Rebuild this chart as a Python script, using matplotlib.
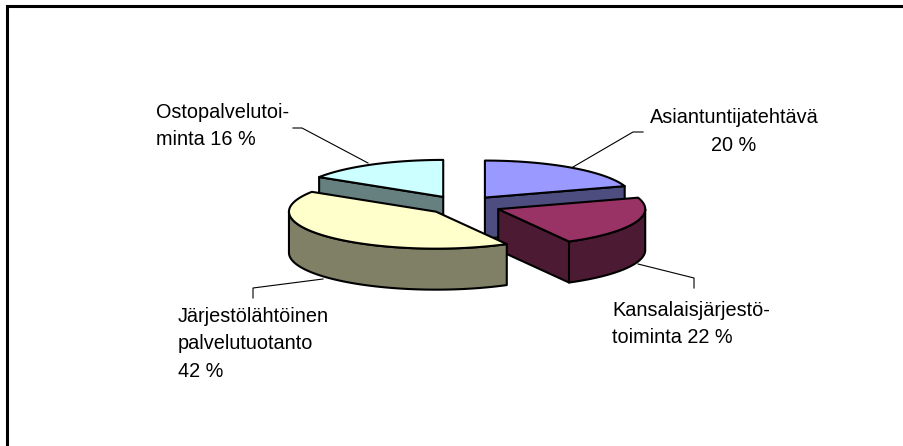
import numpy as np
import matplotlib
matplotlib.use('Agg')
import matplotlib.pyplot as plt
from matplotlib.patches import Polygon

plt.rcParams['font.family'] = ['Liberation Sans', 'DejaVu Sans']

# slice values in percent, clockwise from 12 o'clock
names = ['Asiantuntijatehtävä', 'Kansalaisjärjestötoiminta',
         'Järjestölähtöinen palvelutuotanto', 'Ostopalvelutoiminta']
values = [20, 22, 42, 16]
top_colors = ['#9999FF', '#993366', '#FFFFCC', '#CCFFFF']
side_colors = ['#4D4D80', '#4D1A33', '#808066', '#668080']
label_texts = ['Asiantuntijatehtävä\n20 %', 'Kansalaisjärjestö-\ntoiminta 22 %',
               'Järjestölähtöinen\npalvelutuotanto\n42 %', 'Ostopalvelutoi-\nminta 16 %']
label_pos = [(734, 108), (612, 300.5), (178, 306.5), (156, 102.5)]
label_align = ['center', 'left', 'left', 'left']
leaders = [[(643, 132), (633, 132), (573, 167)],
           [(694, 288), (694, 278), (638, 264)],
           [(253, 298), (253, 288), (323, 279)],
           [(293, 128), (302, 128), (368, 163)]]

# pie geometry in pixels
cx, cy = 462, 205.5
rx, ry = 147, 37
depth = 41
explode = [0.265, 0.265, 0.243, 0.265]
edge_lw = 1.5

fig = plt.figure(figsize=(9.04, 4.46), dpi=100, facecolor='white')
ax = fig.add_axes([0, 0, 1, 1])
ax.set_xlim(0, 904)
ax.set_ylim(446, 0)
ax.axis('off')

# only the left and top border are in the picture
ax.plot([7, 7, 904], [446, 6, 6], color='black', lw=2.2, solid_joinstyle='miter')


def ring(x0, y0, a0, a1):
    a = np.radians(np.linspace(a0, a1, 80))
    return np.column_stack([x0 + rx * np.sin(a), y0 - ry * np.cos(a)])


def draw_face(pts, color):
    ax.add_patch(Polygon(pts, closed=True, facecolor=color, edgecolor='black',
                         lw=edge_lw, joinstyle='round'))


edges = np.concatenate([[0], np.cumsum(values)]) * 3.6
slices = []
for i in range(len(values)):
    mid = np.radians((edges[i] + edges[i + 1]) / 2)
    x0 = cx + explode[i] * rx * np.sin(mid)
    y0 = cy - explode[i] * ry * np.cos(mid)
    slices.append((i, x0, y0, edges[i], edges[i + 1]))

# back slices first, the big front one last
for i, x0, y0, a0, a1 in [slices[0], slices[3], slices[1], slices[2]]:
    drop = np.array([0, depth])
    apex = np.array([x0, y0])
    # side walls that face the viewer
    if np.sin(np.radians(a0)) < -1e-6:
        p = ring(x0, y0, a0, a0)[0]
        draw_face([apex, p, p + drop, apex + drop], side_colors[i])
    if np.sin(np.radians(a1)) > 1e-6:
        p = ring(x0, y0, a1, a1)[0]
        draw_face([apex, p, p + drop, apex + drop], side_colors[i])
    lo, hi = max(a0, 90), min(a1, 270)
    if hi > lo:
        arc = ring(x0, y0, lo, hi)
        draw_face(np.vstack([arc, arc[::-1] + drop]), side_colors[i])
    draw_face(np.vstack([[apex], ring(x0, y0, a0, a1)]), top_colors[i])

for pts in leaders:
    xs, ys = zip(*pts)
    ax.plot(xs, ys, color='black', lw=0.8)

for txt, (x, y), ha in zip(label_texts, label_pos, label_align):
    ax.text(x, y, txt, ha=ha, va='top', fontsize=14.3, color='black',
            linespacing=1.58, multialignment=ha)

fig.savefig('out.png', dpi=100)
